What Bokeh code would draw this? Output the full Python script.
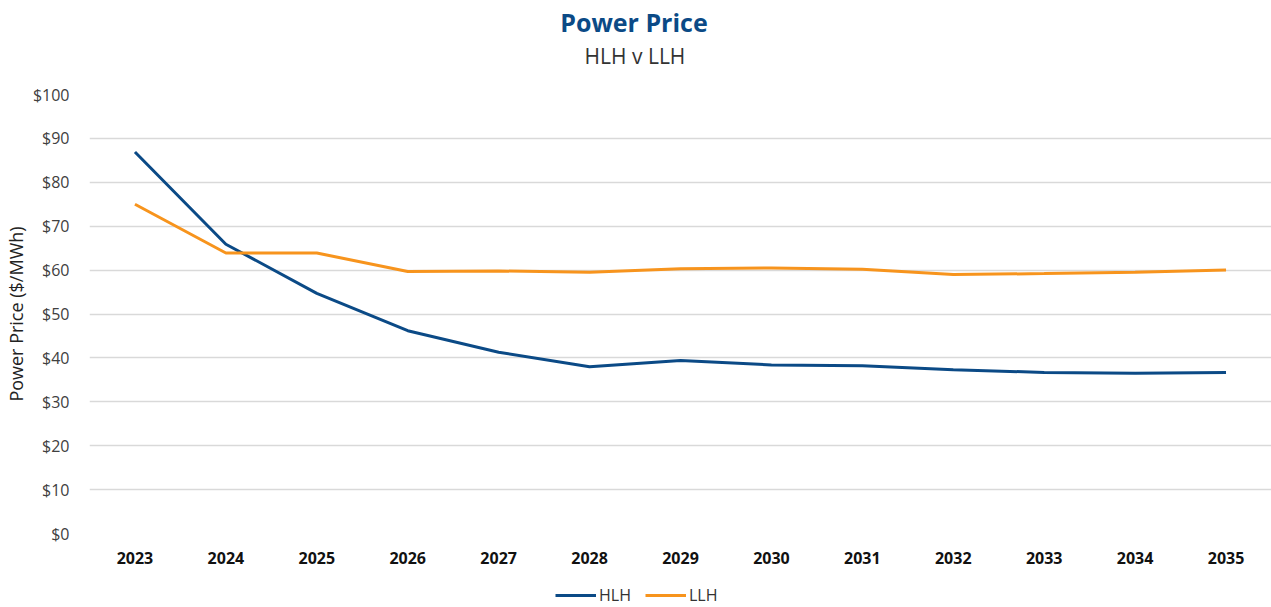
from bokeh.plotting import figure
from bokeh.layouts import column
from bokeh.models import (FactorRange, Range1d, NumeralTickFormatter, Legend,
                          LegendItem, Label, ColumnDataSource)
from bokeh.embed import file_html
from bokeh.resources import INLINE

years = ["2023", "2024", "2025", "2026", "2027", "2028", "2029",
         "2030", "2031", "2032", "2033", "2034", "2035"]
hlh = [86.9, 65.9, 54.7, 46.2, 41.3, 38.0, 39.4, 38.4, 38.2, 37.3, 36.7, 36.5, 36.7]
llh = [75.0, 63.9, 63.9, 59.7, 59.8, 59.5, 60.3, 60.5, 60.2, 59.0, 59.2, 59.5, 60.0]
y_ticks = [0, 10, 20, 30, 40, 50, 60, 70, 80, 90, 100]
title_text = "Power Price"
subtitle_text = "HLH v LLH"
series_names = ["HLH", "LLH"]

FONT = "Open Sans"
BLUE = "#0b4a86"
ORANGE = "#f7941d"
W = 1271
FRAME_LEFT = 90  # column layouts align all frames to the main chart's frame


def bare(fig):
    fig.outline_line_color = None
    fig.xgrid.grid_line_color = None
    fig.ygrid.grid_line_color = None
    fig.background_fill_color = "white"
    fig.border_fill_color = "white"


src = ColumnDataSource(dict(year=years, hlh=hlh, llh=llh))

# ---------- header (titles) ----------
head = figure(width=W, height=80, x_range=Range1d(FRAME_LEFT, W), y_range=Range1d(0, 80),
              output_backend="svg", toolbar_location=None,
              x_axis_location=None, y_axis_location=None,
              min_border_left=0, min_border_right=0, min_border_top=0, min_border_bottom=0)
bare(head)
head.add_layout(Label(x=634, y=59, text=title_text, text_align="center", text_baseline="middle",
                      text_font=FONT, text_font_size="25px", text_font_style="bold",
                      text_color=BLUE))
head.add_layout(Label(x=635, y=25, text=subtitle_text, text_align="center", text_baseline="middle",
                      text_font=FONT, text_font_size="21px", text_font_style="normal",
                      text_color="#333333"))

# ---------- main chart ----------
p = figure(width=W, height=495, x_range=FactorRange(factors=years, range_padding=0),
           y_range=Range1d(0, 100), output_backend="svg", toolbar_location=None,
           min_border_left=80, min_border_right=0, min_border_top=14, min_border_bottom=42)
bare(p)
p.ygrid.grid_line_color = "#d9d9d9"
p.ygrid.grid_line_width = 1.5
p.yaxis.ticker = y_ticks
p.yaxis.formatter = NumeralTickFormatter(format="$0")
for ax in (p.xaxis, p.yaxis):
    ax.axis_line_color = None
    ax.major_tick_line_color = None
    ax.minor_tick_line_color = None
    ax.major_label_text_font = FONT
p.yaxis.major_label_text_font_size = "16px"
p.yaxis.major_label_text_color = "#404040"
p.yaxis.major_label_standoff = 14
p.yaxis.axis_label = "Power Price ($/MWh)"
p.yaxis.axis_label_text_font = FONT
p.yaxis.axis_label_text_font_size = "18px"
p.yaxis.axis_label_text_font_style = "normal"
p.yaxis.axis_label_text_color = "#222222"
p.yaxis.axis_label_standoff = 2

p.xaxis.major_label_text_font_size = "16px"
p.xaxis.major_label_text_font_style = "bold"
p.xaxis.major_label_text_color = "#111111"
p.xaxis.major_label_standoff = 12

p.line("year", "hlh", source=src, line_color=BLUE, line_width=3)
p.line("year", "llh", source=src, line_color=ORANGE, line_width=3)

# ---------- legend strip ----------
leg = figure(width=W, height=31, x_range=FactorRange(factors=years), y_range=Range1d(1000, 1001),
             output_backend="svg", toolbar_location=None,
             x_axis_location=None, y_axis_location=None,
             min_border_left=0, min_border_right=0, min_border_top=0, min_border_bottom=0)
bare(leg)
l1 = leg.line("year", "hlh", source=src, line_color=BLUE, line_width=3)
l2 = leg.line("year", "llh", source=src, line_color=ORANGE, line_width=3)
legend = Legend(items=[LegendItem(label=series_names[0], renderers=[l1]),
                       LegendItem(label=series_names[1], renderers=[l2])],
                orientation="horizontal", location=(556 - FRAME_LEFT, 0),
                label_text_font=FONT, label_text_font_size="16px", label_text_color="#333333",
                glyph_width=41, glyph_height=14, label_height=14, label_standoff=3, spacing=14,
                padding=0, margin=0, border_line_color=None, background_fill_alpha=0)
leg.add_layout(legend, "center")

layout = column(head, p, leg, spacing=0)
open("out.html", "w").write(file_html(layout, INLINE))
